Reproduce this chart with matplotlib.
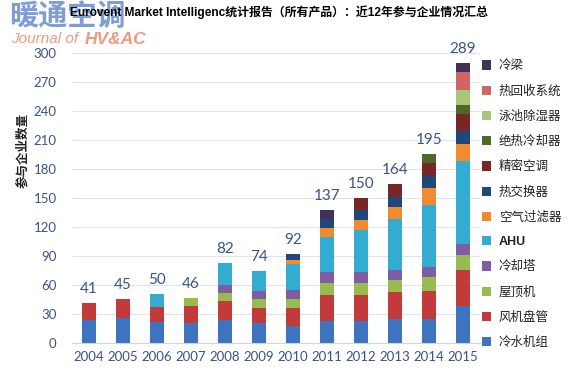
import matplotlib
matplotlib.use("Agg")
import matplotlib.pyplot as plt
import numpy as np

plt.rcParams['font.family'] = ['Lato', 'Noto Sans CJK SC', 'DejaVu Sans']

years = ['2004', '2005', '2006', '2007', '2008', '2009', '2010',
         '2011', '2012', '2013', '2014', '2015']
totals = [41, 45, 50, 46, 82, 74, 92, 137, 150, 164, 195, 289]

# product groups, bottom to top
products = ['冷水机组', '风机盘管', '屋顶机', '冷却塔', 'AHU', '空气过滤器',
            '热交换器', '精密空调', '绝热冷却器', '泳池除湿器', '热回收系统', '冷梁']

chillers     = [24, 26, 21, 20, 24, 20, 17, 22, 22, 25, 25, 38]
fancoils     = [17, 19, 16, 18, 19, 16, 19, 27, 27, 27, 29, 37]
rooftops     = [0, 0, 0, 8, 8, 9, 9, 13, 13, 13, 14, 16]
cooltowers   = [0, 0, 0, 0, 9, 9, 10, 11, 11, 10, 10, 11]
ahu          = [0, 0, 13, 0, 22, 20, 26, 36, 44, 53, 64, 86]
filters      = [0, 0, 0, 0, 0, 0, 5, 10, 10, 12, 18, 18]
heatexch     = [0, 0, 0, 0, 0, 0, 6, 9, 10, 11, 12, 13]
closecontrol = [0, 0, 0, 0, 0, 0, 0, 0, 13, 13, 14, 18]
adiabatic    = [0, 0, 0, 0, 0, 0, 0, 0, 0, 0, 9, 9]
pooldehum    = [0, 0, 0, 0, 0, 0, 0, 0, 0, 0, 0, 15]
heatrecovery = [0, 0, 0, 0, 0, 0, 0, 0, 0, 0, 0, 19]
chilledbeams = [0, 0, 0, 0, 0, 0, 0, 9, 0, 0, 0, 9]

series = [chillers, fancoils, rooftops, cooltowers, ahu, filters, heatexch,
          closecontrol, adiabatic, pooldehum, heatrecovery, chilledbeams]
colors = ['#3e73c0', '#c23a3a', '#97bb4f', '#7d5ea3', '#32acd0', '#f28a2e',
          '#1f477a', '#782726', '#4f6a27', '#a8c879', '#d06565', '#3f3157']

fig = plt.figure(figsize=(5.69, 3.75), dpi=100)
ax = fig.add_axes([0.1265, 0.0861, 0.7171, 0.7734])

x = np.arange(len(years))
bottom = np.zeros(len(years))
handles = []
for vals, col, name in zip(series, colors, products):
    b = ax.bar(x, vals, width=0.41, bottom=bottom, color=col, label=name,
               linewidth=0)
    handles.append(b)
    bottom += np.array(vals)

label_col = '#3b5384'
for xi, t in zip(x, totals):
    ax.annotate(str(t), xy=(xi, t), xytext=(0, 5), textcoords='offset points',
                ha='center', va='bottom', fontsize=11, color=label_col)

ax.set_xlim(-0.5, 11.5)
ax.set_ylim(0, 300)
ax.set_yticks(np.arange(0, 301, 30))
ax.set_xticks(x)
ax.set_xticklabels(years)
ax.tick_params(axis='both', length=0, labelsize=9.5, colors=label_col)
ax.tick_params(axis='y', pad=11)
ax.tick_params(axis='x', pad=6)
ax.grid(axis='y', color='#dde4ef', linewidth=0.8)
ax.set_axisbelow(True)
for s in ['top', 'right', 'left']:
    ax.spines[s].set_visible(False)
ax.spines['bottom'].set_color('#d0d6de')

fig.text(0.04, 0.6, '参与企业数量', rotation=90, ha='center', va='center',
         fontsize=9, fontweight='bold', color='#222222',
         family=['Noto Sans CJK SC'])

# watermark (drawn first, title sits over it as in the source image)
fig.text(0.016, 0.957, '暖通空调', ha='left', va='center', fontsize=21,
         fontweight='black', style='italic', color='#5f84cc', alpha=0.8,
         family=['Noto Sans CJK SC'])
fig.text(0.02, 0.896, 'Journal of', ha='left', va='center', fontsize=11,
         style='italic', color='#ee9a80', family=['Liberation Sans'])
fig.text(0.148, 0.896, 'HV&AC', ha='left', va='center', fontsize=12.5,
         style='italic', fontweight='bold', color='#ee9a80',
         family=['Liberation Sans'])

fig.text(0.49, 0.968, 'Eurovent Market Intelligenc统计报告（所有产品）：近12年参与企业情况汇总',
         ha='center', va='center', fontsize=8.6, fontweight='bold',
         color='black', family=['Liberation Sans', 'Noto Sans CJK SC'])

leg = fig.legend(handles[::-1], products[::-1], loc='upper left',
                 bbox_to_anchor=(0.838, 0.855), frameon=False,
                 fontsize=9, handlelength=0.75, handleheight=0.75,
                 handletextpad=0.6, labelspacing=0.98, borderaxespad=0)
for t in leg.get_texts():
    t.set_color('#222222')
    t.set_family(['Noto Sans CJK SC'])
    if t.get_text() == 'AHU':
        t.set_fontweight('bold')
        t.set_family(['Liberation Sans'])

fig.savefig('out.png', dpi=100)
